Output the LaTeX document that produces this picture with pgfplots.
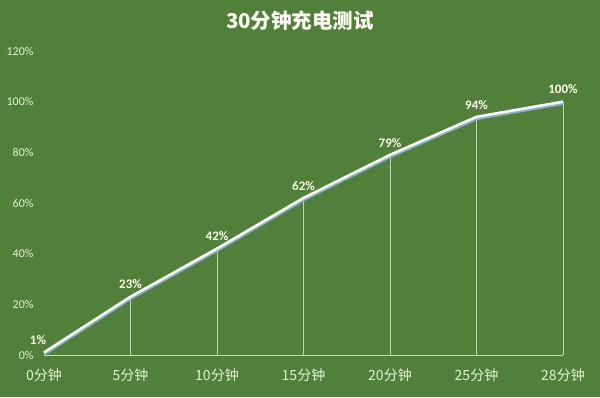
\documentclass[border=0pt]{standalone}
\usepackage{pgfplots}
\pgfplotsset{compat=1.18}
\usepackage{fontspec}
\setmainfont{Carlito}
\newfontfamily\cjk{Noto Sans CJK SC}
\definecolor{bg}{HTML}{50803A}
\definecolor{txt}{HTML}{E6F2D6}
\definecolor{shadow}{HTML}{8AAFC0}
\begin{document}
\begin{tikzpicture}[x=1pt,y=1pt]
\fill[bg] (0,0) rectangle (600,397);
\node[font=\cjk\bfseries\fontsize{20.5}{23}\selectfont, text=white!95!yellow] at (300,376) {30分钟充电测试};
\begin{axis}[
  at={(44pt,42pt)}, anchor=origin,
  scale only axis, width=519pt, height=304pt,
  xmin=0, xmax=6, ymin=0, ymax=120,
  /pgf/number format/assume math mode=true,
  axis x line*=bottom, axis y line*=left,
  x axis line style={draw=txt!80!bg, line width=1pt},
  y axis line style={draw=none},
  major tick length=0pt,
  xtick={0,1,2,3,4,5,6},
  xticklabels={0分钟,5分钟,10分钟,15分钟,20分钟,25分钟,28分钟},
  xticklabel style={font=\cjk\fontsize{14}{16}\selectfont, text=txt, yshift=-10pt},
  ytick={0,20,40,60,80,100,120},
  yticklabels={0\%,20\%,40\%,60\%,80\%,100\%,120\%},
  yticklabel style={font=\fontsize{12}{14}\selectfont, text=txt, xshift=-7pt},
  clip=false,
]
\addplot[ycomb, draw=txt!75!bg, line width=0.7pt] coordinates {(1,23)(2,42)(3,62)(4,79)(5,94)(6,100)};
\addplot[draw=shadow, line width=3pt, yshift=-1.8pt] coordinates {(0,1)(1,23)(2,42)(3,62)(4,79)(5,94)(6,100)};
\addplot[draw=white, line width=2.6pt,
  visualization depends on={\thisrow{dx} \as \dx},
  nodes near coords={\pgfmathprintnumber{\pgfplotspointmeta}\%},
  every node near coord/.append style={font=\bfseries\fontsize{13}{15}\selectfont, text=white!92!yellow, anchor=south, yshift=3pt, xshift=\dx pt}]
  table[x=x, y=y] {
x y dx
0 1 -6
1 23 0
2 42 0
3 62 0
4 79 0
5 94 0
6 100 0
};
\end{axis}
\end{tikzpicture}
\end{document}
